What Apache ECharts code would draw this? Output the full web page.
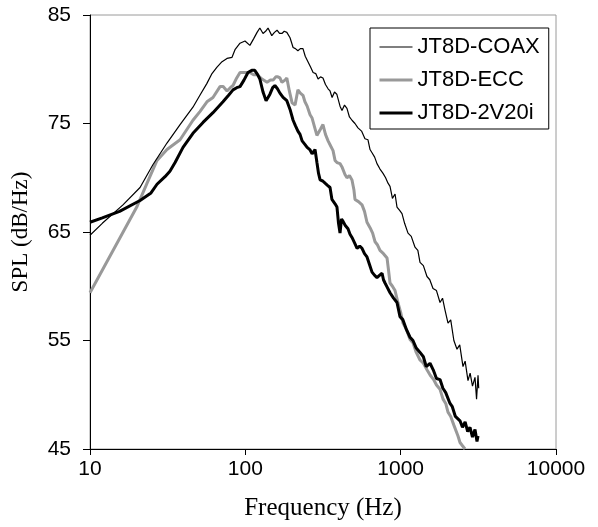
<!DOCTYPE html>
<html>
<head>
<meta charset="utf-8">
<script src="https://cdn.jsdelivr.net/npm/echarts@6/dist/echarts.min.js"></script>
<style>html,body{margin:0;padding:0;background:#fff;}#c{width:598px;height:527px;}</style>
</head>
<body>
<div id="c"></div>
<script>
var seriesNames = ['JT8D-COAX', 'JT8D-ECC', 'JT8D-2V20i'];
var xTicks = [10, 100, 1000, 10000];
var yTicks = [45, 55, 65, 75, 85];

var coaxFreq = [10,12,16.3,21,25.4,31.3,38,46,51,56.6,61,65.7,70.8,76.2,82.1,85.8,92.4,99.5,107,113,119,124,130,135,140,148,154,160,166,172,178,185,194,203,210,218,226,235,243,253,263,273,284,294,305,316,328,341,351,362,375,388,395,407,419,435,451,468,486,508,531,560,589,616,635,654,680,704,736,770,800,829,854,885,920,947,985,1020,1060,1115,1170,1237,1290,1332,1400,1477,1540,1615,1700,1792,1860,1930,2017,2100,2200,2305,2400,2519,2600,2713,2800,2900,3010,3080,3148,3180];
var coaxSpl = [64.7,65.8,67.5,69.1,71.2,73.2,74.9,76.5,77.6,78.7,79.6,80.2,80.7,81.0,81.1,81.8,82.4,82.6,82.2,82.8,83.4,83.8,83.3,83.5,83.8,83.1,83.4,83.6,83.3,83.3,83.5,83.4,82.9,82.0,81.9,81.7,81.9,81.9,81.2,80.7,80.2,79.7,79.6,79.1,79.3,79.2,78.6,78.2,78.0,77.4,77.9,77.7,77.8,76.6,76.2,76.7,76.4,75.6,75.3,75.0,74.6,74.3,73.6,73.5,72.6,72.3,71.9,71.3,70.8,70.4,70.0,69.5,69.2,68.1,68.5,67.3,67.0,66.7,65.8,64.9,64.6,63.6,63.3,62.2,61.9,60.9,60.6,59.8,59.6,58.5,58.9,57.8,56.6,56.9,55.0,54.2,54.6,52.6,53.1,51.3,52.0,50.8,51.6,49.6,51.8,50.6];

var eccFreq = [10,20,23.3,27,31.3,38,46,51,56.6,61.9,68.7,72,76.2,80,83.3,88,92.4,100,107,113,119,128,138,145,151,157,162,167,172,180,185,192,200,209,218,226,235,242,250,261,269,280,289,294,305,316,328,341,355,367,378,389,407,419,438,451,468,486,500,508,535,564,585,607,635,660,684,710,736,775,817,835,854,885,920,960,1000,1035,1090,1149,1200,1260,1332,1400,1477,1550,1630,1700,1792,1874,1950,2017,2100,2200,2339,2410,2500,2595];
var eccSpl = [59.4,67.3,69.5,71.6,72.6,73.5,75.3,76.1,77.0,77.4,78.4,78.4,78.0,78.3,78.5,79.2,79.7,79.7,79.7,79.5,79.5,79.1,78.8,79.0,79.0,79.3,79.3,79.2,78.8,79.0,79.2,78.0,76.9,76.7,78.1,77.8,77.6,77.0,76.6,75.8,75.5,74.6,73.9,73.8,74.5,74.9,74.0,73.4,72.9,72.5,71.6,71.4,71.3,71.0,70.3,70.0,70.2,69.8,68.9,68.0,67.8,67.5,66.9,65.9,65.4,64.9,64.1,63.8,63.3,63.0,62.6,61.5,60.3,60.0,59.6,58.5,57.6,56.6,56.0,55.1,54.8,53.9,53.2,52.9,52.3,51.8,51.4,50.9,50.5,49.6,49.2,48.4,48.0,47.2,46.2,45.6,45.3,45.0];

var v2Freq = [10,12,15.5,21,24.7,27,30.4,32.7,35.3,39.7,46,53.4,61.9,71.8,78,83.3,88,92.4,98,104,110,115,120,124,130,136,140,144,150,155,161,167,175,185,194,203,210,218,225,232,241,250,260,269,281,289,296,303,315,326,338,351,361,367,378,389,398,407,416,425,440,458,472,486,505,524,545,564,585,607,630,654,680,704,730,759,775,793,820,854,900,947,990,1035,1090,1149,1200,1260,1332,1400,1460,1545,1620,1700,1792,1870,1950,2078,2150,2250,2410,2500,2600,2700,2795,2900,3010,3100,3148];
var v2Spl = [65.9,66.3,66.9,67.9,68.6,69.4,70.1,70.6,71.4,72.8,74.1,75.1,76.0,77.0,77.6,78.1,78.3,78.4,79.0,79.7,79.9,79.9,79.5,79.1,77.9,77.1,77.4,77.7,78.3,78.5,78.2,77.8,77.4,77.1,76.3,75.3,74.8,74.3,74.0,73.4,73.1,72.8,72.6,72.2,72.6,71.4,70.4,69.8,69.7,69.5,69.3,69.1,68.0,67.9,67.6,67.3,65.8,64.9,66.2,66.0,65.6,65.3,64.8,64.5,64.0,63.5,63.7,63.5,63.0,62.7,62.0,61.3,61.0,60.8,61.0,61.2,60.6,60.3,59.9,59.4,58.9,58.5,57.2,56.9,56.0,55.3,55.0,54.3,53.9,53.5,52.6,52.9,52.3,51.5,51.4,50.6,50.2,49.2,48.9,48.0,47.6,47.0,47.5,46.6,47.0,46.1,46.8,45.7,46.2];

function zip(a, b) { return a.map(function (v, i) { return [v, b[i]]; }); }

var chart = echarts.init(document.getElementById('c'), null, { renderer: 'canvas' });
var labelFont = { fontFamily: 'Liberation Sans, Arial, sans-serif', fontSize: 21, color: '#000' };
var lineColors = ['#000000', '#999999', '#000000'];
var lineWidths = [1.2, 3, 3];

chart.setOption({
  animation: false,
  backgroundColor: '#fff',
  grid: { left: 90, right: 42, top: 15, bottom: 78, show: true, borderColor: '#9a9a9a', borderWidth: 1, backgroundColor: 'transparent' },
  legend: {
    data: seriesNames.map(function (n, i) {
      return { name: n, lineStyle: { color: lineColors[i], width: lineWidths[i] }, itemStyle: { opacity: 0 } };
    }),
    orient: 'vertical',
    left: 370, top: 28,
    padding: [8, 9, 5, 8],
    itemGap: 11,
    itemWidth: 33, itemHeight: 14,
    backgroundColor: '#fff',
    borderColor: '#000', borderWidth: 1, borderRadius: 0,
    itemStyle: { opacity: 0 },
    textStyle: { fontFamily: 'Liberation Sans, Arial, sans-serif', fontSize: 22, color: '#000', lineHeight: 22 }
  },
  xAxis: {
    type: 'log', logBase: 10, min: xTicks[0], max: xTicks[xTicks.length - 1],
    name: 'Frequency (Hz)', nameLocation: 'middle', nameGap: 47,
    nameTextStyle: { fontFamily: 'Liberation Serif, Times New Roman, serif', fontSize: 25, color: '#000' },
    axisLine: { onZero: false, lineStyle: { color: '#000', width: 1 } },
    axisTick: { show: true, length: 6, inside: false, lineStyle: { color: '#000' } },
    minorTick: { show: false },
    axisLabel: Object.assign({ margin: 10, formatter: function (v) { return String(Math.round(v)); } }, labelFont),
    splitLine: { show: false }
  },
  yAxis: {
    type: 'value', min: yTicks[0], max: yTicks[yTicks.length - 1], interval: 10,
    name: 'SPL (dB/Hz)', nameLocation: 'middle', nameGap: 58,
    nameTextStyle: { fontFamily: 'Liberation Serif, Times New Roman, serif', fontSize: 23, color: '#000' },
    axisLine: { show: true, onZero: false, lineStyle: { color: '#000', width: 1 } },
    axisTick: { show: true, length: 7, inside: false, lineStyle: { color: '#000' } },
    axisLabel: Object.assign({ margin: 19 }, labelFont),
    splitLine: { show: false }
  },
  series: [
    { name: seriesNames[1], type: 'line', data: zip(eccFreq, eccSpl), showSymbol: false, symbol: 'none', smooth: false,
      lineStyle: { color: lineColors[1], width: lineWidths[1] }, itemStyle: { color: lineColors[1] }, z: 2 },
    { name: seriesNames[2], type: 'line', data: zip(v2Freq, v2Spl), showSymbol: false, symbol: 'none', smooth: false,
      lineStyle: { color: lineColors[2], width: lineWidths[2] }, itemStyle: { color: lineColors[2] }, z: 3 },
    { name: seriesNames[0], type: 'line', data: zip(coaxFreq, coaxSpl), showSymbol: false, symbol: 'none', smooth: false,
      lineStyle: { color: lineColors[0], width: lineWidths[0] }, itemStyle: { color: lineColors[0] }, z: 4 }
  ]
});
</script>
</body>
</html>
